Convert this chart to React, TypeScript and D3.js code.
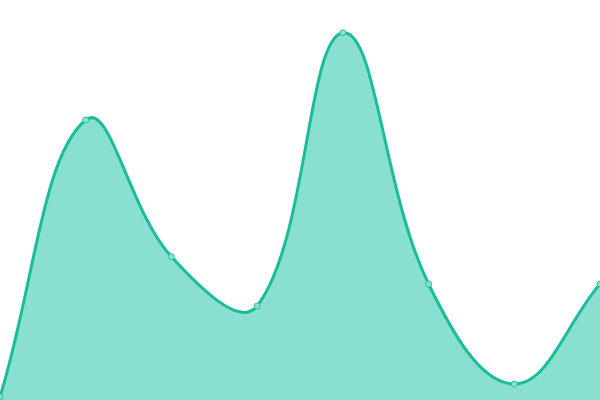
import React, { useEffect, useRef } from 'react';
import * as d3 from 'd3';

const categories = ['A', 'B', 'C', 'D', 'E', 'F', 'G', 'H'];
const values = [0.8, 70, 35.8, 23.5, 91.8, 29, 4, 29];

const W = 600;
const H = 400;
const TENSION = 0.4;

// spline with control points weighted by segment length (same idea as chart.js "tension")
class SplineCurve {
  _context: any;
  _t: number;
  _line = NaN;
  _pts: [number, number][] = [];

  constructor(context: any, t: number) {
    this._context = context;
    this._t = t;
  }
  areaStart() { this._line = 0; }
  areaEnd() { this._line = NaN; }
  lineStart() { this._pts = []; }
  point(x: number, y: number) { this._pts.push([+x, +y]); }
  lineEnd() {
    const p = this._pts;
    const n = p.length;
    const ctx = this._context;
    if (n) {
      if (this._line) ctx.lineTo(p[0][0], p[0][1]);
      else ctx.moveTo(p[0][0], p[0][1]);
      if (n === 2) {
        ctx.lineTo(p[1][0], p[1][1]);
      } else if (n > 2) {
        const cps = p.map((cur, i) => {
          const prev = p[Math.max(i - 1, 0)];
          const next = p[Math.min(i + 1, n - 1)];
          const d01 = Math.hypot(cur[0] - prev[0], cur[1] - prev[1]);
          const d12 = Math.hypot(next[0] - cur[0], next[1] - cur[1]);
          let s01 = d01 / (d01 + d12);
          let s12 = d12 / (d01 + d12);
          if (isNaN(s01)) s01 = 0;
          if (isNaN(s12)) s12 = 0;
          const fa = this._t * s01;
          const fb = this._t * s12;
          return {
            px: cur[0] - fa * (next[0] - prev[0]),
            py: cur[1] - fa * (next[1] - prev[1]),
            nx: cur[0] + fb * (next[0] - prev[0]),
            ny: cur[1] + fb * (next[1] - prev[1]),
          };
        });
        for (let i = 1; i < n; i++) {
          ctx.bezierCurveTo(cps[i - 1].nx, cps[i - 1].ny, cps[i].px, cps[i].py, p[i][0], p[i][1]);
        }
      }
    }
    if (this._line || (this._line !== 0 && n === 1)) ctx.closePath();
    this._line = 1 - this._line;
  }
}

const spline = (context: any) => new SplineCurve(context, TENSION);

const App: React.FC = () => {
  const ref = useRef<SVGSVGElement | null>(null);

  useEffect(() => {
    const svg = d3.select(ref.current);
    svg.selectAll('*').remove();

    const x = d3.scalePoint<string>().domain(categories).range([0, W]);
    const y = d3.scaleLinear().domain([0, 100]).range([H, 0]);

    const data = categories.map((c, i) => ({ c, v: values[i] }));

    const area = d3.area<{ c: string; v: number }>()
      .x(d => x(d.c)!)
      .y0(H)
      .y1(d => y(d.v))
      .curve(spline as any);

    const line = d3.line<{ c: string; v: number }>()
      .x(d => x(d.c)!)
      .y(d => y(d.v))
      .curve(spline as any);

    svg.append('path')
      .attr('d', area(data)!)
      .attr('fill', '#8ae0d0');

    svg.append('path')
      .attr('d', line(data)!)
      .attr('fill', 'none')
      .attr('stroke', '#1abc9c')
      .attr('stroke-width', 3);

    svg.selectAll('circle')
      .data(data)
      .enter().append('circle')
      .attr('cx', d => x(d.c)!)
      .attr('cy', d => y(d.v))
      .attr('r', 3)
      .attr('fill', '#8ae0d0')
      .attr('stroke', '#2ec4a4')
      .attr('stroke-width', 1);
  }, []);

  return (
    <svg
      ref={ref}
      width={W}
      height={H}
      style={{ position: 'absolute', left: 0, top: 0, background: '#fff' }}
    />
  );
};

export default App;
